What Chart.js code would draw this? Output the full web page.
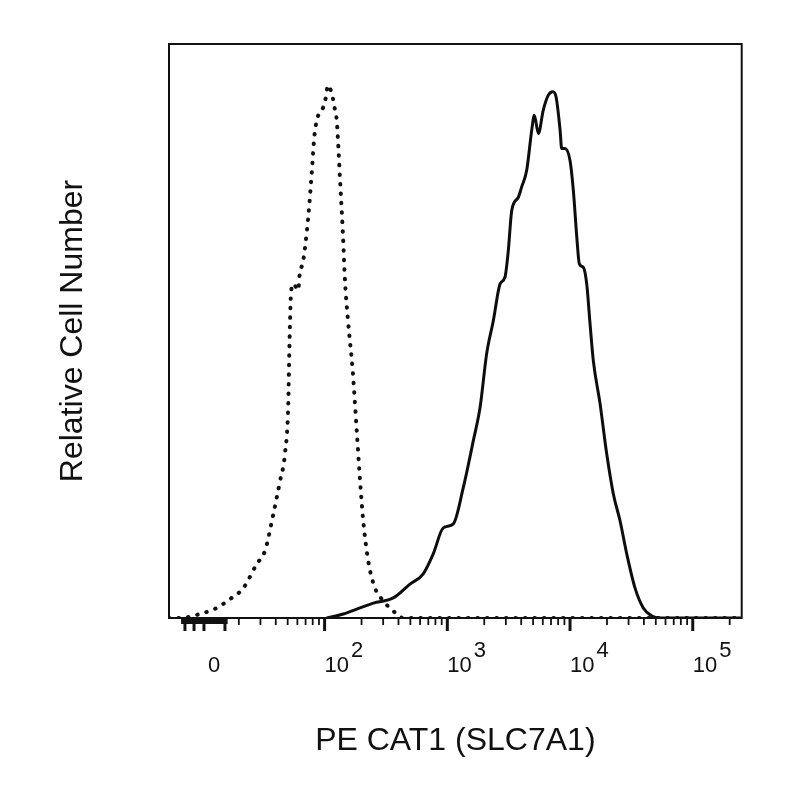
<!DOCTYPE html>
<html>
<head>
<meta charset="utf-8">
<title>PE CAT1 (SLC7A1)</title>
<script src="https://cdn.jsdelivr.net/npm/chart.js@4"></script>
<style>
  html, body { margin: 0; padding: 0; background: #fff; }
  #area-grafico { width: 800px; height: 800px; }
</style>
</head>
<body>
<div id="area-grafico"><canvas id="grafico"></canvas></div>
<script>
// x values are in display decades: 2 = 10^2, 3 = 10^3 ... (biexponential axis)
const eixo_min = 0.732;
const eixo_max = 5.399;

// isotype control (dotted)
const controle_x = [0.732, 0.822, 0.985, 1.121, 1.229, 1.337, 1.447, 1.514, 1.582, 1.637,
    1.677, 1.704, 1.712, 1.718, 1.726, 1.745, 1.786, 1.794, 1.826, 1.867,
    1.895, 1.916, 1.936, 1.989, 2.011, 2.025, 2.058, 2.085, 2.099, 2.112,
    2.126, 2.148, 2.166, 2.193, 2.229, 2.262, 2.289, 2.315, 2.356, 2.411,
    2.478, 2.560, 2.641, 5.399];
const controle_y = [0, 0, 0.7, 1.75, 3.3, 5.2, 9.4, 11.7, 18.1, 23.9,
    28.6, 37.3, 46.1, 51.3, 56.5, 58.2, 57.1, 59.4, 62.3, 69.9,
    77.5, 83.8, 86.7, 89.0, 90.8, 92.8, 91.4, 88.5, 86.7, 82.1,
    76.3, 67.5, 58.8, 51.3, 43.1, 32.6, 23.9, 16.9, 9.9, 5.2,
    3.0, 1.2, 0, 0];

// CAT1 stained cells (solid)
const marcado_x = [2.017, 2.152, 2.289, 2.397, 2.560, 2.696, 2.804, 2.886, 2.967, 3.049,
    3.130, 3.212, 3.267, 3.321, 3.375, 3.430, 3.470, 3.497, 3.525, 3.579,
    3.606, 3.647, 3.688, 3.709, 3.742, 3.782, 3.823, 3.859, 3.886, 3.919,
    3.932, 3.959, 4.000, 4.027, 4.055, 4.076, 4.108, 4.136, 4.163, 4.190,
    4.245, 4.299, 4.353, 4.408, 4.462, 4.530, 4.597, 4.666, 4.734, 5.399];
const marcado_y = [0, 0.7, 1.75, 2.6, 3.5, 5.9, 7.7, 11.2, 15.7, 16.4,
    22.7, 30.9, 36.7, 46.1, 51.8, 58.2, 59.4, 64.0, 71.0, 73.3,
    75.1, 78.0, 85.0, 87.6, 84.4, 88.5, 91.1, 91.7, 90.8, 85.0,
    81.8, 81.8, 79.7, 74.5, 66.4, 61.7, 61.1, 58.2, 51.3, 44.8,
    37.3, 28.6, 21.6, 16.9, 11.2, 5.2, 1.75, 0.35, 0, 0];

// tick labels
const rotulos_pos = [1.10, 2, 3, 4, 5];
const rotulos_base = ['0', '10', '10', '10', '10'];
const rotulos_exp = ['', '2', '3', '4', '5'];

// tick marks
const ticks_maiores = [0.862, 0.936, 1.017, 1.188, 2, 3, 4, 5];
const multiplos = [2, 3, 4, 5, 6, 7, 8, 9];
const ticks_menores = [];
[1, 2, 3, 4].forEach(d => {
    multiplos.forEach(m => ticks_menores.push(d + Math.log10(m)));
});
ticks_menores.push(5 + Math.log10(2));
const ticks_linear = [];
for (let v = 0.84; v <= 1.205; v += 0.012) ticks_linear.push(v);

const fonte = "'Liberation Sans', Arial, sans-serif";

const plugin_eixo = {
    id: 'eixo_biex',
    afterDraw(chart) {
        const ctx = chart.ctx;
        const area = chart.chartArea;
        const sx = chart.scales.x;
        const base = area.bottom;

        ctx.save();
        ctx.strokeStyle = '#111';
        ctx.fillStyle = '#111';
        ctx.lineCap = 'butt';

        // box
        ctx.lineWidth = 2;
        ctx.strokeRect(area.left, area.top, area.right - area.left, area.bottom - area.top);

        const risco = (v, len, w) => {
            if (v < eixo_min || v > eixo_max) return;
            const x = sx.getPixelForValue(v);
            ctx.lineWidth = w;
            ctx.beginPath();
            ctx.moveTo(x, base);
            ctx.lineTo(x, base + len);
            ctx.stroke();
        };
        ticks_linear.forEach(v => risco(v, 6, 2.4));
        ticks_menores.forEach(v => { if (v > 1.25) risco(v, 7, 1.8); });
        ticks_maiores.forEach(v => risco(v, 13, 3));

        // labels with raised exponent
        ctx.font = '22px ' + fonte;
        ctx.textBaseline = 'alphabetic';
        rotulos_pos.forEach((v, i) => {
            const x = sx.getPixelForValue(v);
            if (rotulos_exp[i] === '') {
                ctx.textAlign = 'center';
                ctx.fillText(rotulos_base[i], x, 672);
            } else {
                ctx.textAlign = 'left';
                ctx.fillText(rotulos_base[i], x, 672);
                const w = ctx.measureText(rotulos_base[i]).width;
                ctx.fillText(rotulos_exp[i], x + w + 2, 657);
            }
        });
        ctx.restore();
    }
};

function exibir_grafico(grafico) {
    return new Chart(grafico, {
        type: 'line',
        data: {
            datasets: [
                {
                    label: 'Isotype control',
                    data: controle_x.map((x, i) => ({ x: x, y: controle_y[i] })),
                    borderColor: '#111',
                    borderWidth: 4,
                    borderDash: [0.5, 9],
                    borderCapStyle: 'round',
                    pointRadius: 0,
                    cubicInterpolationMode: 'monotone',
                    fill: false
                },
                {
                    label: 'PE CAT1 (SLC7A1)',
                    data: marcado_x.map((x, i) => ({ x: x, y: marcado_y[i] })),
                    borderColor: '#0d0d0d',
                    borderWidth: 3,
                    borderJoinStyle: 'round',
                    pointRadius: 0,
                    cubicInterpolationMode: 'monotone',
                    fill: false
                }
            ]
        },
        options: {
            responsive: true,
            maintainAspectRatio: false,
            animation: false,
            layout: { padding: { left: 40, top: 44, right: 58.3, bottom: 20 } },
            plugins: {
                legend: { display: false },
                tooltip: { enabled: false }
            },
            scales: {
                x: {
                    type: 'linear',
                    min: eixo_min,
                    max: eixo_max,
                    grid: { display: false, drawTicks: false },
                    border: { display: false },
                    ticks: { display: false },
                    title: {
                        display: true,
                        text: 'PE CAT1 (SLC7A1)',
                        color: '#111',
                        font: { family: fonte, size: 32 },
                        padding: { top: 103.8, bottom: 19.8 }
                    }
                },
                y: {
                    type: 'linear',
                    min: 0,
                    max: 100,
                    grid: { display: false, drawTicks: false },
                    border: { display: false },
                    ticks: { display: false },
                    title: {
                        display: true,
                        text: 'Relative Cell Number',
                        color: '#111',
                        font: { family: fonte, size: 32 },
                        padding: { top: 14.1, bottom: 76.5 }
                    }
                }
            }
        },
        plugins: [plugin_eixo]
    });
}

exibir_grafico(document.getElementById('grafico'));
</script>
</body>
</html>
